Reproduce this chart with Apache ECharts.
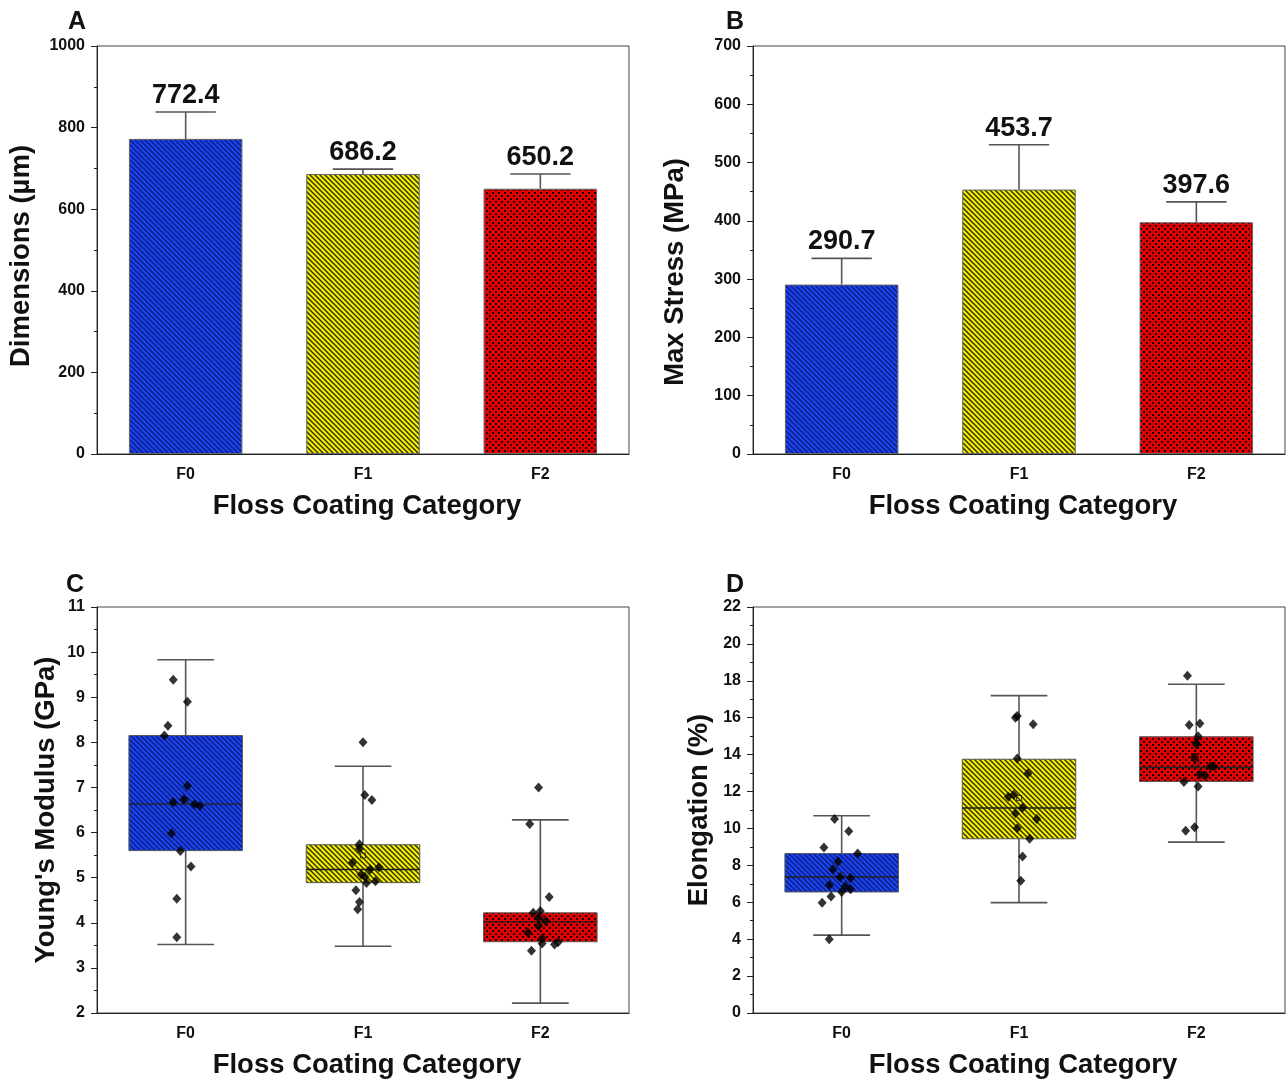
<!DOCTYPE html>
<html>
<head>
<meta charset="utf-8">
<script src="https://cdn.jsdelivr.net/npm/echarts@6/dist/echarts.min.js"></script>
<style>
  html, body { margin: 0; padding: 0; background: #fff; }
  #chart { width: 1286px; height: 1080px; }
</style>
</head>
<body>
<div id="chart"></div>
<script>
// categories
const categories = ['F0', 'F1', 'F2'];

// panel A: dimensions (µm), mean and SD
const dimMean = [772.4, 686.2, 650.2];
const dimSd = [66, 12, 36];

// panel B: max stress (MPa)
const stressMean = [290.7, 453.7, 397.6];
const stressSd = [45, 77, 35];

// panel C: Young's modulus (GPa) box stats [min, q1, median, q3, max]
const modulusBox = [
  [3.52, 5.60, 6.63, 8.15, 9.83],
  [3.48, 4.89, 5.18, 5.73, 7.47],
  [2.22, 3.58, 4.02, 4.22, 6.28]
];
const modulusMean = [6.72, 5.49, 4.05];
// raw points: [jitter offset in category units, value]
const modulusF0 = [[-0.07, 9.39], [0.01, 8.90], [-0.10, 8.37], [-0.12, 8.15], [0.01, 7.04], [-0.01, 6.73], [-0.07, 6.67],
  [0.05, 6.63], [0.08, 6.59], [-0.08, 5.98], [-0.03, 5.59], [0.03, 5.25], [-0.05, 4.53], [-0.05, 3.68]];
const modulusF1 = [[0.00, 8.00], [0.01, 6.83], [0.05, 6.72], [-0.02, 5.74], [-0.02, 5.64], [-0.06, 5.33], [0.09, 5.23],
  [0.04, 5.18], [-0.01, 5.07], [0.01, 5.02], [0.07, 4.92], [0.02, 4.88], [-0.04, 4.72], [-0.02, 4.46], [-0.03, 4.30]];
const modulusF2 = [[-0.01, 7.00], [-0.06, 6.19], [0.05, 4.57], [-0.04, 4.22], [0.00, 4.26], [-0.01, 4.11], [0.03, 4.04],
  [-0.01, 3.93], [-0.07, 3.78], [0.01, 3.65], [0.01, 3.54], [0.08, 3.52], [0.10, 3.57], [-0.05, 3.38]];

// panel D: elongation (%)
const elongBox = [
  [4.22, 6.56, 7.37, 8.64, 10.69],
  [5.98, 9.44, 11.11, 13.75, 17.20],
  [9.26, 12.55, 13.30, 14.97, 17.81]
];
const elongMean = [7.46, 11.65, 13.5];
const elongF0 = [[-0.04, 10.51], [0.04, 9.85], [-0.10, 8.97], [0.09, 8.64], [-0.02, 8.21], [-0.05, 7.78], [-0.01, 7.35],
  [0.05, 7.31], [-0.07, 6.92], [0.02, 6.86], [0.05, 6.70], [0.00, 6.56], [-0.06, 6.31], [-0.11, 5.97], [-0.07, 4.00]];
const elongF1 = [[-0.02, 16.00], [-0.01, 16.09], [0.08, 15.65], [-0.01, 13.79], [0.05, 12.98], [-0.03, 11.82], [-0.06, 11.72],
  [0.02, 11.12], [-0.02, 10.82], [0.10, 10.51], [-0.01, 10.01], [0.06, 9.44], [0.02, 8.48], [0.01, 7.17]];
const elongF2 = [[-0.05, 18.28], [-0.04, 15.60], [0.02, 15.69], [0.01, 15.00], [0.00, 14.61], [0.00, 14.56], [-0.01, 13.84],
  [0.08, 13.36], [0.10, 13.36], [0.02, 12.94], [0.05, 12.85], [-0.07, 12.52], [0.01, 12.28], [-0.01, 10.07], [-0.06, 9.87]];

const FONT = 'Liberation Sans, Arial, sans-serif';

// fill patterns
function hatch(base, line, step, lw) {
  const c = document.createElement('canvas');
  c.width = c.height = step;
  const g = c.getContext('2d');
  g.fillStyle = base;
  g.fillRect(0, 0, step, step);
  g.strokeStyle = line;
  g.lineWidth = lw;
  g.beginPath();
  g.moveTo(-1, -1); g.lineTo(step + 1, step + 1);
  g.moveTo(-1, step - 1); g.lineTo(1, step + 1);
  g.moveTo(step - 1, -1); g.lineTo(step + 1, 1);
  g.stroke();
  return c;
}
function dots(base, dot) {
  const c = document.createElement('canvas');
  c.width = c.height = 6;
  const g = c.getContext('2d');
  g.fillStyle = base;
  g.fillRect(0, 0, 6, 6);
  g.fillStyle = dot;
  g.fillRect(0, 0, 2, 2);
  g.fillRect(3, 3, 2, 2);
  return c;
}
const patterns = [
  { image: hatch('#1a44f2', '#0c1c78', 5, 1.3), repeat: 'repeat' },
  { image: hatch('#f4ef00', '#2e2c00', 5, 1.4), repeat: 'repeat' },
  { image: dots('#e40000', '#1a0000'), repeat: 'repeat' }
];

const chart = echarts.init(document.getElementById('chart'), null, { renderer: 'canvas' });

const grids = [
  { left: 97, top: 46, width: 532, height: 408 },
  { left: 753, top: 46, width: 532, height: 408 },
  { left: 97, top: 607, width: 532, height: 408 },
  { left: 753, top: 607, width: 532, height: 408 }
].map(g => Object.assign(g, { show: true, borderColor: '#444', borderWidth: 1 }));

function catAxis(i) {
  return {
    type: 'category', gridIndex: i, data: categories,
    axisLine: { onZero: false, lineStyle: { color: '#222', width: 1 } },
    axisTick: { alignWithLabel: true, length: 6, lineStyle: { color: '#222' } },
    axisLabel: { color: '#111', fontFamily: FONT, fontWeight: 'bold', fontSize: 16, margin: 13 },
    name: 'Floss Coating Category', nameLocation: 'middle', nameGap: 38,
    nameTextStyle: { color: '#111', fontFamily: FONT, fontWeight: 'bold', fontSize: 27.5, padding: [0, 0, 0, 8] }
  };
}
function valAxis(i, name, min, max, interval, gap, pad) {
  return {
    type: 'value', gridIndex: i, min: min, max: max, interval: interval,
    axisLine: { show: true, onZero: false, lineStyle: { color: '#222', width: 1 } },
    axisTick: { show: true, length: 6, lineStyle: { color: '#222' } },
    minorTick: { show: true, splitNumber: 2, length: 3, lineStyle: { color: '#222' } },
    splitLine: { show: false },
    axisLabel: { color: '#111', fontFamily: FONT, fontWeight: 'bold', fontSize: 16, margin: 12,
      formatter: v => String(v) },
    name: name, nameLocation: 'middle', nameGap: gap,
    nameTextStyle: { color: '#111', fontFamily: FONT, fontWeight: 'bold', fontSize: 27.5, padding: pad || 0 }
  };
}
function jitterAxis(i) {
  return { type: 'value', gridIndex: i, min: -0.5, max: 2.5, show: false };
}

// error bar with value label on top
function renderErr(params, api) {
  const x = api.value(0), m = api.value(1), s = api.value(2);
  const base = api.coord([x, m]);
  const top = api.coord([x, m + s]);
  const cap = api.size([1, 0])[0] * 0.17;
  const ls = { stroke: '#555', lineWidth: 1.6 };
  return {
    type: 'group',
    children: [
      { type: 'line', shape: { x1: base[0], y1: base[1], x2: top[0], y2: top[1] }, style: ls },
      { type: 'line', shape: { x1: top[0] - cap, y1: top[1], x2: top[0] + cap, y2: top[1] }, style: ls },
      { type: 'text', x: top[0], y: top[1] - 3,
        style: { text: m.toFixed(1), align: 'center', verticalAlign: 'bottom', fill: '#111',
          font: 'bold 27px ' + FONT } }
    ]
  };
}

// box with half-width whisker caps
function renderBox(params, api) {
  const x = api.value(0);
  const p = [1, 2, 3, 4, 5].map(k => api.coord([x, api.value(k)]));
  const band = api.size([1, 0])[0];
  const hw = band * 0.32;
  const cap = band * 0.16;
  const cx = p[0][0];
  const ls = { stroke: '#555', lineWidth: 1.6 };
  return {
    type: 'group',
    children: [
      { type: 'line', shape: { x1: cx, y1: p[0][1], x2: cx, y2: p[4][1] }, style: ls },
      { type: 'line', shape: { x1: cx - cap, y1: p[0][1], x2: cx + cap, y2: p[0][1] }, style: ls },
      { type: 'line', shape: { x1: cx - cap, y1: p[4][1], x2: cx + cap, y2: p[4][1] }, style: ls },
      { type: 'rect', shape: { x: cx - hw, y: p[3][1], width: hw * 2, height: p[1][1] - p[3][1] },
        style: { fill: patterns[x], stroke: '#555', lineWidth: 1 } },
      { type: 'line', shape: { x1: cx - hw, y1: p[2][1], x2: cx + hw, y2: p[2][1] },
        style: { stroke: '#222', lineWidth: 1.4 } }
    ]
  };
}

function errData(mean, sd) {
  return mean.map((m, i) => [i, m, sd[i]]);
}
function boxData(stats) {
  return stats.map((s, i) => [i].concat(s));
}
function pts(list, cat) {
  return list.map(d => [cat + d[0], d[1]]);
}
function scatter(xi, yi, data) {
  return {
    type: 'scatter', xAxisIndex: xi, yAxisIndex: yi, data: data, z: 5,
    symbol: 'diamond', symbolSize: [9, 10], itemStyle: { color: '#000' }
  };
}
function means(xi, yi, list) {
  return {
    type: 'scatter', xAxisIndex: xi, yAxisIndex: yi, data: list.map((v, i) => [i, v]), z: 4,
    symbol: 'rect', symbolSize: 5,
    itemStyle: { color: 'rgba(0,0,0,0)', borderColor: '#222', borderWidth: 1 }
  };
}

const letterStyle = { color: '#111', fontFamily: FONT, fontWeight: 'bold', fontSize: 25 };

const option = {
  animation: false,
  backgroundColor: '#fff',
  title: [
    { text: 'A', left: 68, top: 10, textStyle: letterStyle, padding: 0 },
    { text: 'B', left: 726, top: 10, textStyle: letterStyle, padding: 0 },
    { text: 'C', left: 66, top: 573, textStyle: letterStyle, padding: 0 },
    { text: 'D', left: 726, top: 573, textStyle: letterStyle, padding: 0 }
  ],
  grid: grids,
  xAxis: [catAxis(0), catAxis(1), catAxis(2), catAxis(3), jitterAxis(2), jitterAxis(3)],
  yAxis: [
    valAxis(0, 'Dimensions (µm)', 0, 1000, 200, 62, [0, 12, 0, 0]),
    valAxis(1, 'Max Stress (MPa)', 0, 700, 100, 64, [0, 44, 0, 0]),
    valAxis(2, "Young's Modulus (GPa)", 2, 11, 1, 37),
    valAxis(3, 'Elongation (%)', 0, 22, 2, 40)
  ],
  series: [
    {
      type: 'bar', xAxisIndex: 0, yAxisIndex: 0, barWidth: '64%',
      data: dimMean.map((v, i) => ({ value: v, itemStyle: { color: patterns[i] } })),
      itemStyle: { borderColor: '#666', borderWidth: 1 }
    },
    { type: 'custom', xAxisIndex: 0, yAxisIndex: 0, renderItem: renderErr, data: errData(dimMean, dimSd), z: 3 },
    {
      type: 'bar', xAxisIndex: 1, yAxisIndex: 1, barWidth: '64%',
      data: stressMean.map((v, i) => ({ value: v, itemStyle: { color: patterns[i] } })),
      itemStyle: { borderColor: '#666', borderWidth: 1 }
    },
    { type: 'custom', xAxisIndex: 1, yAxisIndex: 1, renderItem: renderErr, data: errData(stressMean, stressSd), z: 3 },

    { type: 'custom', xAxisIndex: 2, yAxisIndex: 2, renderItem: renderBox, data: boxData(modulusBox), z: 2 },
    means(4, 2, modulusMean),
    scatter(4, 2, pts(modulusF0, 0)),
    scatter(4, 2, pts(modulusF1, 1)),
    scatter(4, 2, pts(modulusF2, 2)),

    { type: 'custom', xAxisIndex: 3, yAxisIndex: 3, renderItem: renderBox, data: boxData(elongBox), z: 2 },
    means(5, 3, elongMean),
    scatter(5, 3, pts(elongF0, 0)),
    scatter(5, 3, pts(elongF1, 1)),
    scatter(5, 3, pts(elongF2, 2))
  ]
};

chart.setOption(option);
</script>
</body>
</html>
